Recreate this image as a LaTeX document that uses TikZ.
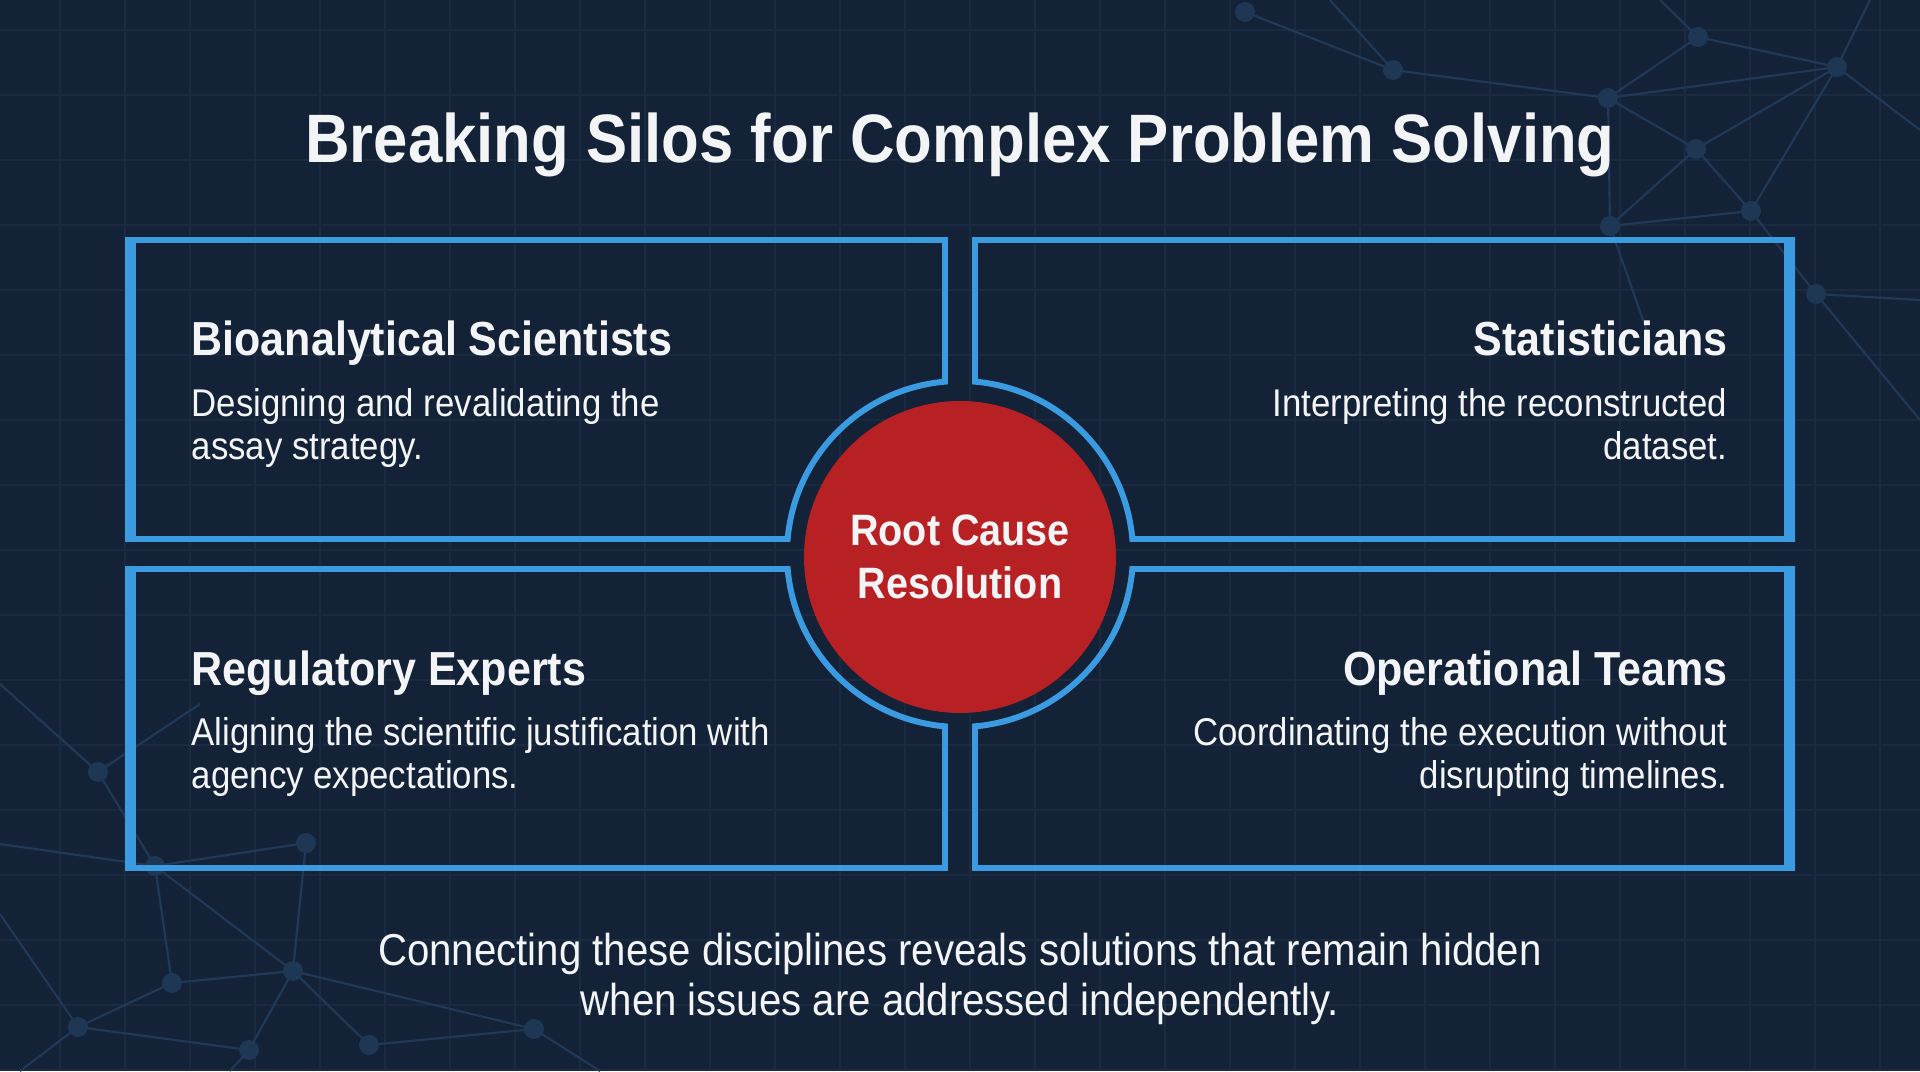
\documentclass[tikz,border=0pt]{standalone}
\usepackage{fontspec}
\setmainfont{Liberation Sans}[FakeStretch=0.9]
\usetikzlibrary{positioning,calc}
\definecolor{bgnavy}{RGB}{19,34,55}
\definecolor{gridline}{RGB}{25,42,65}
\definecolor{netline}{RGB}{33,57,86}
\definecolor{netfill}{RGB}{30,55,84}
\definecolor{panelblue}{RGB}{58,155,225}
\definecolor{corered}{RGB}{183,33,35}
\definecolor{txtwhite}{RGB}{243,244,246}

\begin{document}
\begin{tikzpicture}[
    heading/.style={font=\fontsize{13.6}{16}\selectfont\bfseries, text=txtwhite, inner sep=0pt},
    blurb/.style={font=\fontsize{11}{12.2}\selectfont, text=txtwhite, inner sep=0pt},
    panel/.style={draw=panelblue, line width=1.7pt},
    core/.style={circle, fill=corered, minimum size=3.12cm, inner sep=0pt, align=center, text=txtwhite, font=\fontsize{12.5}{15}\selectfont\bfseries},
    netlink/.style={draw=netline, line width=0.6pt},
    netdot/.style={circle, fill=netfill, minimum size=0.2cm, inner sep=0pt}
]

% === LAYOUT ===
% origin = centre of the red circle, 1cm = 100px of the slide
% panels: x from 0.15 to 8.32, y from 0.15 to 3.14 (mirrored four times)
% ring radius 1.73, red disc radius 1.56

% Background
\useasboundingbox (-9.6,-5.17) rectangle (9.6,5.54);
\fill[bgnavy] (-9.6,-5.17) rectangle (9.6,5.54);

\begin{scope}
\clip (-9.6,-5.17) rectangle (9.6,5.54);
% faint grid
\foreach \gx in {0,...,29} {
    \draw[gridline, line width=0.5pt] ({-9.0+0.65*\gx},-5.17) -- ++(0,10.71);
}
\foreach \gy in {0,...,16} {
    \draw[gridline, line width=0.5pt] (-9.6,{5.24-0.65*\gy}) -- ++(19.2,0);
}

% network, top right
\coordinate (tr1) at (4.33,4.84);
\coordinate (tr2) at (7.38,5.17);
\coordinate (tr3) at (8.77,4.87);
\coordinate (tr4) at (6.48,4.56);
\coordinate (tr5) at (7.36,4.05);
\coordinate (tr6) at (7.91,3.43);
\coordinate (tr7) at (6.50,3.28);
\coordinate (tr8) at (8.56,2.60);
\coordinate (tr9) at (2.85,5.42);
\coordinate (te1) at (9.6,4.24);
\coordinate (te2) at (9.6,2.54);
\coordinate (te3) at (9.1,5.54);
\coordinate (te4) at (7.0,5.54);
\coordinate (te5) at (6.9,2.14);
\coordinate (te6) at (9.6,1.34);
\coordinate (te7) at (3.7,5.54);
\foreach \a/\b in {tr9/tr1, tr1/tr4, tr4/tr2, tr4/tr3, tr2/tr3, tr4/tr5, tr4/tr7,
                   tr3/tr5, tr3/tr6, tr5/tr6, tr5/tr7, tr7/tr6, tr6/tr8, tr3/te1,
                   tr2/te4, tr3/te3, tr8/te2, tr7/te5, tr8/te6, tr1/te7} {
    \draw[netlink] (\a) -- (\b);
}
\foreach \n in {tr1,tr2,tr3,tr4,tr5,tr6,tr7,tr8,tr9} {
    \node[netdot] at (\n) {};
}

% network, bottom left
\coordinate (bl1) at (-8.62,-2.18);
\coordinate (bl2) at (-8.05,-3.12);
\coordinate (bl3) at (-6.54,-2.89);
\coordinate (bl4) at (-6.67,-4.17);
\coordinate (bl5) at (-7.88,-4.29);
\coordinate (bl6) at (-8.82,-4.73);
\coordinate (bl7) at (-7.11,-4.96);
\coordinate (bl8) at (-5.91,-4.91);
\coordinate (bl9) at (-4.26,-4.75);
\coordinate (be1) at (-9.6,-1.3);
\coordinate (be2) at (-9.6,-3.6);
\coordinate (be3) at (-7.3,-5.17);
\coordinate (be4) at (-3.6,-5.17);
\coordinate (be5) at (-9.6,-2.9);
\coordinate (be6) at (-7.6,-1.5);
\coordinate (be7) at (-9.4,-5.17);
\foreach \a/\b in {bl1/bl2, bl2/bl3, bl3/bl4, bl4/bl5, bl5/bl6, bl4/bl8, bl4/bl7,
                   bl8/bl9, bl2/bl4, bl5/bl2, bl6/bl7, bl1/be1, bl6/be2, bl7/be3,
                   bl9/be4, bl2/be5, bl1/be6, bl6/be7, bl9/bl4} {
    \draw[netlink] (\a) -- (\b);
}
\foreach \n in {bl1,bl2,bl3,bl4,bl5,bl6,bl7,bl8,bl9} {
    \node[netdot] at (\n) {};
}
\end{scope}

% === PANELS (one outline, mirrored into the four quadrants) ===
\pgfmathsetmacro{\ringy}{sqrt(1.73*1.73-0.15*0.15)}
\pgfmathsetmacro{\ringa}{asin(0.15/1.73)}
\foreach \sx/\sy in {1/1, -1/1, 1/-1, -1/-1} {
    \begin{scope}[xscale=\sx, yscale=\sy]
        \draw[panel] (-8.32,0.15) -- (-8.32,3.14) -- (-0.15,3.14) -- (-0.15,\ringy)
            arc[start angle=90+\ringa, end angle=180-\ringa, radius=1.73] -- cycle;
        \draw[panelblue, line width=1.5pt] (-8.27,0.18) -- (-8.27,3.11);
    \end{scope}
}

% Centre
\node[core] (core) at (0,-0.03) {Root Cause\\Resolution};

% Title
\node[font=\fontsize{19.5}{23}\selectfont\bfseries, text=txtwhite, inner sep=0pt, anchor=base] (title) at (0,3.91) {Breaking Silos for Complex Problem Solving};

% Top left
\node[heading, anchor=base west] (bioHead) at (-7.69,1.98) {Bioanalytical Scientists};
\node[blurb, align=left, anchor=north west] (bioText) at ($(bioHead.base west)+(0,-0.32)$) {Designing and revalidating the\\assay strategy.};

% Top right
\node[heading, anchor=base east] (statHead) at (7.68,1.98) {Statisticians};
\node[blurb, align=right, anchor=north east] (statText) at ($(statHead.base east)+(0,-0.32)$) {Interpreting the reconstructed\\dataset.};

% Bottom left
\node[heading, anchor=base west] (regHead) at (-7.69,-1.31) {Regulatory Experts};
\node[blurb, align=left, anchor=north west] (regText) at ($(regHead.base west)+(0,-0.32)$) {Aligning the scientific justification with\\agency expectations.};

% Bottom right
\node[heading, anchor=base east] (opsHead) at (7.68,-1.31) {Operational Teams};
\node[blurb, align=right, anchor=north east] (opsText) at ($(opsHead.base east)+(0,-0.32)$) {Coordinating the execution without\\disrupting timelines.};

% Closing line
\node[font=\fontsize{12.7}{14.4}\selectfont, text=txtwhite, inner sep=0pt, align=center, anchor=north] (closing) at (0,-3.78) {Connecting these disciplines reveals solutions that remain hidden\\when issues are addressed independently.};

\end{tikzpicture}
\end{document}
